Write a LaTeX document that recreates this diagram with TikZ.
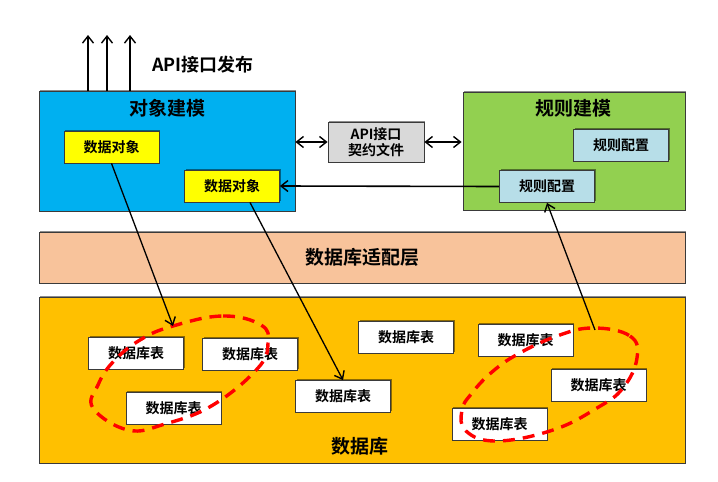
\documentclass[tikz,border=0pt]{standalone}
\usepackage{fontspec}
\setmainfont{Noto Sans CJK SC}
\newfontfamily\cjkb{Noto Sans CJK SC Bold}
\usetikzlibrary{arrows.meta,shadows,calc}
\definecolor{cblue}{HTML}{00B0F0}
\definecolor{cgreen}{HTML}{92D050}
\definecolor{cgray}{HTML}{D9D9D9}
\definecolor{clblue}{HTML}{B7DEE8}
\definecolor{cyel}{HTML}{FFFF00}
\definecolor{cpeach}{HTML}{F8C39B}
\definecolor{cgold}{HTML}{FFC000}
\definecolor{cred}{HTML}{FF0000}
\definecolor{cedge}{HTML}{3A3A3A}
\tikzset{
  shd/.style={drop shadow={shadow xshift=1.2pt,shadow yshift=1.2pt,opacity=0.45,fill=black}},
  panel/.style={draw=cedge,line width=0.8pt,shd,inner sep=0pt},
  small/.style={draw=cedge,line width=0.8pt,shd,inner sep=0pt,minimum width=95pt,minimum height=32pt,font=\cjkb\fontsize{14}{16}\selectfont},
  tbl/.style={small,fill=white},
  title/.style={font=\cjkb\fontsize{19}{21}\selectfont},
  tip/.style={-{Straight Barb[length=7pt,width=11pt,line width=1.4pt]}},
  arr/.style={line width=1.6pt,tip},
  darr/.style={line width=1.6pt,{Straight Barb[length=7pt,width=11pt,line width=1.4pt]}-{Straight Barb[length=7pt,width=11pt,line width=1.4pt]}},
  link/.style={line width=1.3pt,tip},
  grp/.style={cred,line width=3.4pt,dash pattern=on 12pt off 8pt},
}
\begin{document}
\begin{tikzpicture}[x=1pt,y=-1pt]
\useasboundingbox[fill=white] (0,0) rectangle (718,482);
% panels
\node[panel,fill=cblue,minimum width=256pt,minimum height=120pt] (obj) at (167,151) {};
\node[panel,fill=cgreen,minimum width=222pt,minimum height=118pt] (rule) at (574,151) {};
\node[panel,fill=cpeach,minimum width=646pt,minimum height=51pt] (adp) at (362,257.5) {};
\node[panel,fill=cgold,minimum width=646pt,minimum height=166pt] (db) at (362,380) {};
% titles
\node[title] (tobj) at (167,108) {对象建模};
\node[title] (trule) at (573,108) {规则建模};
\node[title] (tadp) at (362,257) {数据库适配层};
\node[title] (tdb) at (360,446) {数据库};
\node[font=\cjkb\fontsize{18}{20}\selectfont] (tapi) at (203,65) {API接口发布};
% inner boxes
\node[small,fill=cyel] (d1) at (111.5,147) {数据对象};
\node[small,fill=cyel] (d2) at (232,186) {数据对象};
\node[small,fill=clblue] (r1) at (621,145.5) {规则配置};
\node[small,fill=clblue] (r2) at (547,186.5) {规则配置};
\node[draw=cedge,line width=0.8pt,shd,fill=cgray,minimum width=96pt,minimum height=40pt,inner sep=0pt,align=center,font=\cjkb\fontsize{14}{16}\selectfont] (api) at (376,142) {API接口\\契约文件};
% tables
\node[tbl] (t1) at (136,353) {数据库表};
\node[tbl] (t2) at (250,354) {数据库表};
\node[tbl] (t3) at (173.5,408.5) {数据库表};
\node[tbl] (t4) at (343,396.5) {数据库表};
\node[tbl] (t5) at (406,337) {数据库表};
\node[tbl] (t6) at (525.5,340.5) {数据库表};
\node[tbl] (t7) at (598.5,385.5) {数据库表};
\node[tbl] (t8) at (499.5,424.5) {数据库表};
% groups
\draw[grp] plot[smooth cycle,tension=0.7] coordinates {(173,326) (223,316) (261,325) (268,343) (258,368) (213,405) (165,424) (128,430) (93,408) (98,385) (113,362) (140,340)};
\draw[grp] plot[smooth cycle,tension=0.7] coordinates {(593,328) (630,336) (637,358) (623,388) (597,408) (553,430) (497,441) (466,431) (462,410) (472,393) (492,372) (518,354) (557,336)};
\coordinate (g1) at (173,326);
\coordinate (g2) at (595,330);
% arrows
\coordinate (u1) at (88,35);
\coordinate (u2) at (107,35);
\coordinate (u3) at (130,35);
\draw[arr] (obj.north west -| u1) -- (u1);
\draw[arr] (obj.north west -| u2) -- (u2);
\draw[arr] (obj.north west -| u3) -- (u3);
\draw[darr] (obj.east |- api) -- (api.west);
\draw[darr] (api.east) -- ([xshift=-1pt]rule.west |- api);
\draw[arr] (r2.west) -- (d2.east);
\draw[link] (d1.south) -- (g1);
\draw[link] ([xshift=18pt]d2.south) -- (t4.north);
\draw[link] (g2) -- (r2.south);
\end{tikzpicture}
\end{document}
